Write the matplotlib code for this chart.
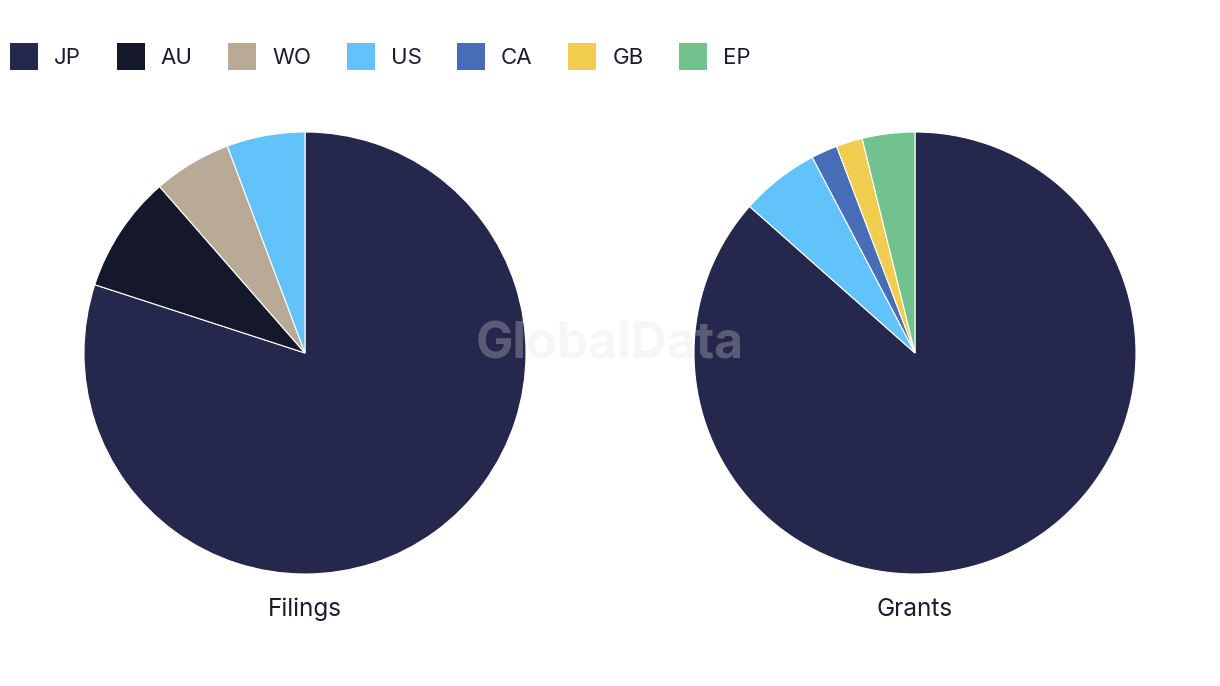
import matplotlib.pyplot as plt
from matplotlib.patches import Patch

# data
filing_labels = ['JP', 'AU', 'WO', 'US']
filing_values = [28, 3, 2, 2]
grant_labels = ['JP', 'US', 'CA', 'GB', 'EP']
grant_values = [45, 3, 1, 1, 2]

legend_order = ['JP', 'AU', 'WO', 'US', 'CA', 'GB', 'EP']
colors = {
    'JP': '#26274c',
    'AU': '#15172b',
    'WO': '#b8aa96',
    'US': '#62c2fa',
    'CA': '#466db6',
    'GB': '#f0cd4e',
    'EP': '#72c28f',
}

plt.rcParams['font.family'] = ['Inter', 'DejaVu Sans']
TEXT = '#1b1c30'

W, H = 1220, 686
fig = plt.figure(figsize=(W / 100, H / 100), dpi=100)


def pie_axes(cx, cy, r):
    return fig.add_axes([(cx - r) / W, (H - cy - r) / H, 2 * r / W, 2 * r / H])


for cx, labels, values, title in [(305, filing_labels, filing_values, 'Filings'),
                                  (915, grant_labels, grant_values, 'Grants')]:
    ax = pie_axes(cx, 353, 221)
    ax.pie(values, colors=[colors[l] for l in labels], startangle=90,
           counterclock=False, radius=1,
           wedgeprops={'edgecolor': 'white', 'linewidth': 0.8})
    ax.set_xlim(-1, 1)
    ax.set_ylim(-1, 1)
    ax.axis('off')
    fig.text(cx / W, 1 - 609 / H, title, ha='center', va='center',
             fontsize=17.5, color=TEXT)

# legend
handles = [Patch(facecolor=colors[l], edgecolor='none', label=l) for l in legend_order]
fig.legend(handles=handles, loc='upper left', bbox_to_anchor=(10 / W, 1 - 43 / H),
           ncol=7, frameon=False, fontsize=16, handlelength=1.26, handleheight=1.5,
           handletextpad=0.72, columnspacing=1.6, borderpad=0, borderaxespad=0,
           labelcolor=TEXT)

# watermark
fig.text(610 / W, 1 - 345 / H, 'GlobalData', ha='center', va='center',
         fontsize=36, fontweight='bold', color='#e2e2e6', alpha=0.28, zorder=10)

fig.savefig('out.png', dpi=100, facecolor='white')
